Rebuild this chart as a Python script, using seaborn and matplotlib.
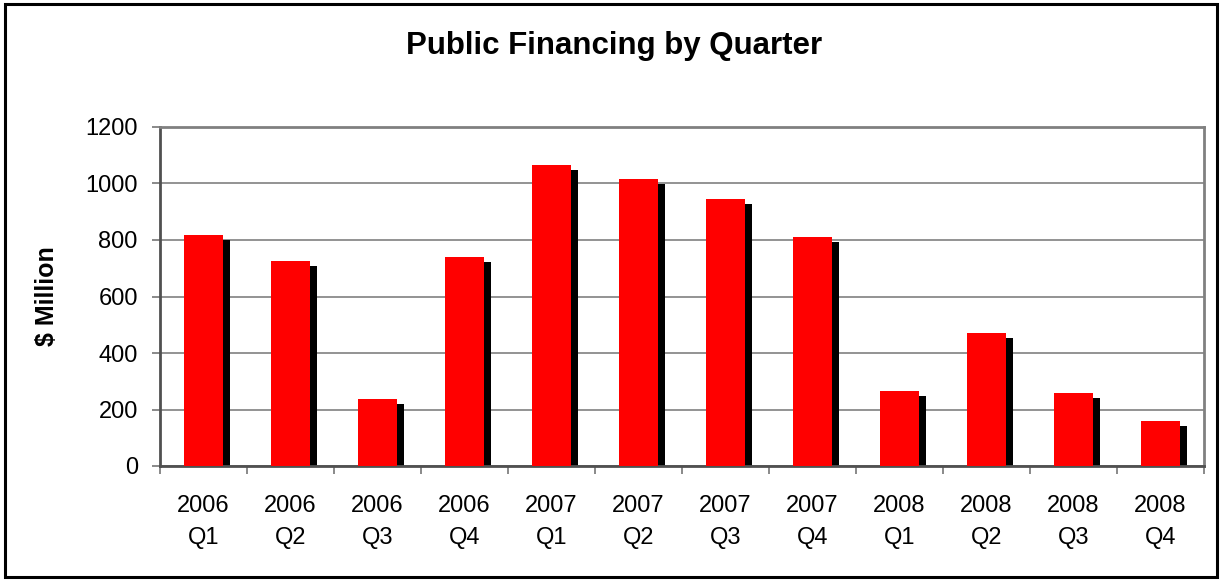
import matplotlib
matplotlib.use("Agg")
import matplotlib.pyplot as plt
from matplotlib.transforms import offset_copy
from matplotlib.patches import Rectangle
import seaborn as sns
import numpy as np
import pandas as pd

years = ["2006", "2006", "2006", "2006", "2007", "2007", "2007", "2007",
         "2008", "2008", "2008", "2008"]
quarters = ["Q1", "Q2", "Q3", "Q4", "Q1", "Q2", "Q3", "Q4",
            "Q1", "Q2", "Q3", "Q4"]
financing = [818, 725, 237, 740, 1066, 1017, 946, 811, 265, 470, 258, 158]
yticks = [0, 200, 400, 600, 800, 1000, 1200]

labels = [f"{y}\n{q}" for y, q in zip(years, quarters)]
df = pd.DataFrame({"label": labels, "value": financing})

sns.set_style("white")
plt.rcParams["font.family"] = ["Liberation Sans", "DejaVu Sans"]
plt.rcParams["text.color"] = "black"
plt.rcParams["axes.labelcolor"] = "black"
plt.rcParams["xtick.labelcolor"] = "black"
plt.rcParams["ytick.labelcolor"] = "black"

fig = plt.figure(figsize=(12.22, 5.81), dpi=100)
ax = fig.add_axes([160 / 1222, 1 - 466 / 581, 1044 / 1222, 339 / 581])

# shadow bars
sns.barplot(data=df, x="label", y="value", color="black", saturation=1,
            width=0.44, ax=ax, errorbar=None)
n_shadow = len(ax.patches)
shadow_tr = offset_copy(ax.transData, fig=fig, x=7, y=-5, units="dots")
for p in ax.patches[:n_shadow]:
    p.set_transform(shadow_tr)
    p.set_zorder(2)
    p.set_linewidth(0)

# main red bars
sns.barplot(data=df, x="label", y="value", color="#FF0000", saturation=1,
            width=0.44, ax=ax, errorbar=None)
for p in ax.patches[n_shadow:]:
    p.set_zorder(3)
    p.set_linewidth(0)

ax.set_ylim(0, 1200)
ax.set_xlim(-0.5, len(labels) - 0.5)
ax.set_yticks(yticks)
ax.set_yticklabels([str(t) for t in yticks])
ax.set_axisbelow(True)
ax.yaxis.grid(True, color="#808080", linewidth=1.2)
ax.xaxis.grid(False)

# x ticks: labels at centres, tick marks at boundaries
ax.set_xticks(np.arange(len(labels)))
ax.set_xticklabels(labels, linespacing=1.6)
ax.set_xticks(np.arange(len(labels) + 1) - 0.5, minor=True)
ax.tick_params(axis="x", which="major", length=0, pad=21, labelsize=17,
               labelcolor="black")
ax.tick_params(axis="x", which="minor", length=6, width=1.3, color="#808080",
               direction="out", bottom=True)
ax.tick_params(axis="y", which="major", length=6, width=1.3, color="#808080",
               direction="out", left=True, pad=10, labelsize=17,
               labelcolor="black")

for side in ["left", "bottom"]:
    ax.spines[side].set_color("#505050")
    ax.spines[side].set_linewidth(2)
for side in ["top", "right"]:
    ax.spines[side].set_color("#808080")
    ax.spines[side].set_linewidth(2)
    ax.spines[side].set_visible(True)

ax.set_xlabel("")
ax.set_ylabel("$ Million", fontsize=18, fontweight="bold", color="black")
ax.yaxis.set_label_coords(-0.097, 0.5)

fig.text(614 / 1222, 1 - 46 / 581, "Public Financing by Quarter",
         ha="center", va="center", fontsize=22.5, fontweight="bold",
         color="black")

# outer chart border
fig.patches.append(Rectangle((5 / 1222, 4 / 581), 1212 / 1222, 573 / 581,
                             transform=fig.transFigure, fill=False,
                             edgecolor="black", linewidth=2.2))

fig.savefig("out.png", dpi=100)
